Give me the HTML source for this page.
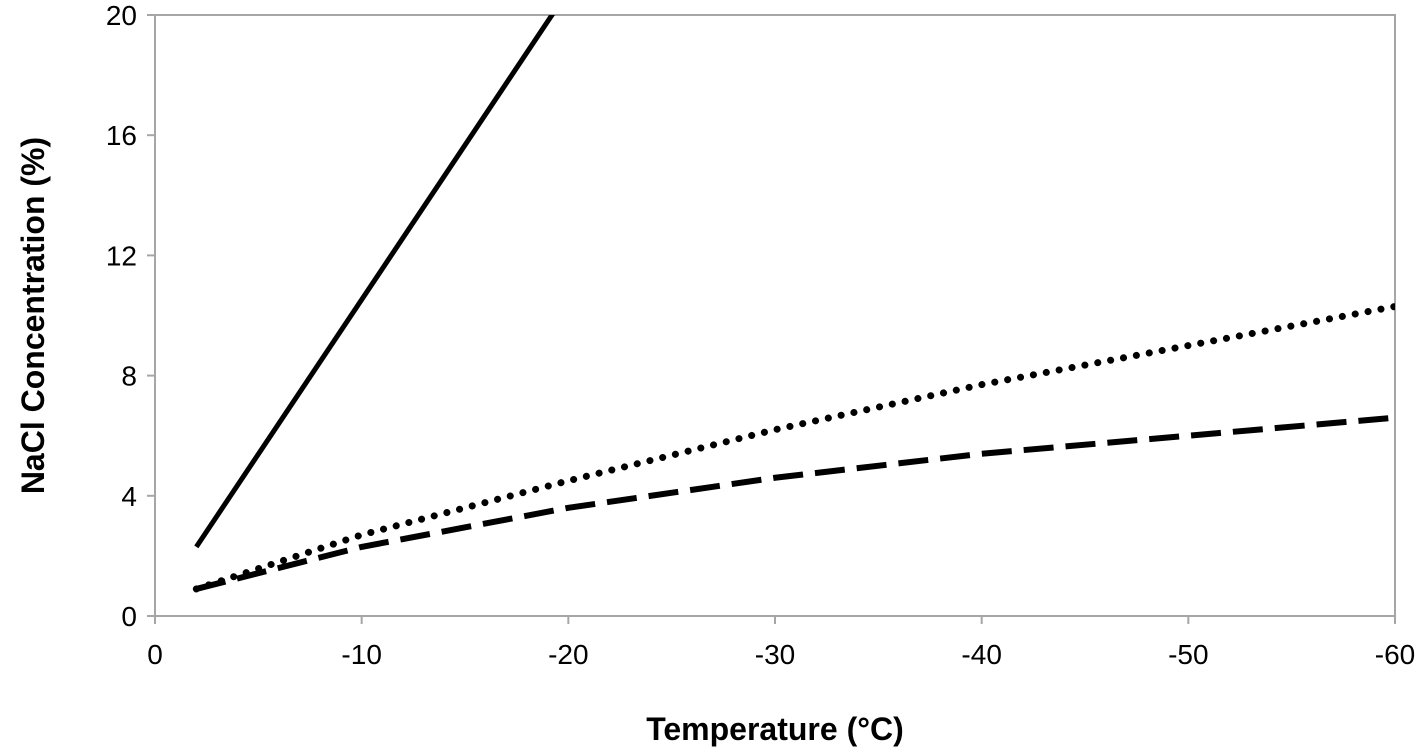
<!DOCTYPE html>
<html><head><meta charset="utf-8"><style>
body{margin:0;background:#fff;}
svg{display:block;font-family:"Liberation Sans",Arial,sans-serif;}
</style></head><body>
<svg id="chart" width="1422" height="751"></svg>
<script>
const xTicks=[0,-10,-20,-30,-40,-50,-60];
const yTicks=[0,4,8,12,16,20];
const solidT=[-2,-19.5];
const solidC=[2.3,20.3];
const dottedT=[-2,-10,-20,-30,-40,-50,-60];
const dottedC=[0.9,2.7,4.5,6.2,7.7,9.0,10.3];
const dashedT=[-2,-10,-20,-30,-40,-50,-60];
const dashedC=[0.9,2.3,3.6,4.6,5.4,6.0,6.6];
const L=155,R=1395,T=15,B=616;
const xs=v=>L+(0-v)/60*(R-L);
const ys=v=>B-v/20*(B-T);
const NS="http://www.w3.org/2000/svg";
const svg=document.getElementById('chart');
function mk(t,a){const e=document.createElementNS(NS,t);for(const k in a)e.setAttribute(k,a[k]);svg.appendChild(e);return e;}
const defs=mk('defs',{});
const cp=document.createElementNS(NS,'clipPath');cp.setAttribute('id','clip');
const cr=document.createElementNS(NS,'rect');cr.setAttribute('x',L);cr.setAttribute('y',T);cr.setAttribute('width',R-L);cr.setAttribute('height',B-T);
cp.appendChild(cr);defs.appendChild(cp);
const frame=mk('rect',{x:L,y:T,width:R-L,height:B-T,fill:'none',stroke:'#a6a6a6','stroke-width':2});


yTicks.forEach(v=>{
 const t=mk('line',{x1:L-8,x2:L,y1:ys(v),y2:ys(v),stroke:'#a6a6a6','stroke-width':2});
 
 
 const l=mk('text',{x:L-18,y:ys(v)+10,'text-anchor':'end','font-size':28,fill:'#000'});l.textContent=v;
 
 
});
xTicks.forEach(v=>{
 const t=mk('line',{x1:xs(v),x2:xs(v),y1:B,y2:B+8,stroke:'#a6a6a6','stroke-width':2});
 
 
 const l=mk('text',{x:xs(v),y:B+48,'text-anchor':'middle','font-size':28,fill:'#000'});l.textContent=v;
 
 
});
function series(T_,C_,dash,cap,w,name){
 const d=T_.map((t,i)=>(i?'L':'M')+xs(t)+','+ys(C_[i])).join(' ');
 const a={d:d,fill:'none',stroke:'#000','stroke-width':w,'clip-path':'url(#clip)','stroke-linecap':cap};
 if(dash)a['stroke-dasharray']=dash;
 const p=mk('path',a);
 
 
}
series(solidT,solidC,null,'butt',5,'solid-series');
series(dottedT,dottedC,'0.1 13','round',7,'dotted-series');
series(dashedT,dashedC,'30 12','butt',6,'dashed-series');
const xt=mk('text',{x:(L+R)/2,y:740,'text-anchor':'middle','font-size':32,'font-weight':'bold',fill:'#000'});xt.textContent='Temperature (°C)';


const yt=mk('text',{x:0,y:0,'text-anchor':'middle','font-size':32,'font-weight':'bold',fill:'#000',transform:'translate(44,'+((T+B)/2)+') rotate(-90)'});yt.textContent='NaCl Concentration (%)';


</script>
</body></html>
